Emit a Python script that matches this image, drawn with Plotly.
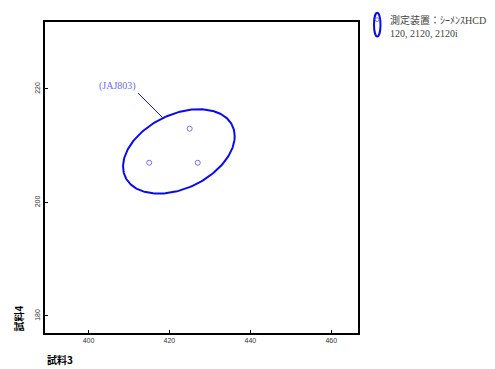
import numpy as np
import plotly.graph_objects as go

# ---- data ----
sample3 = [415.0, 425.0, 427.0]      # x: 試料3
sample4 = [207.0, 213.0, 207.0]      # y: 試料4
chi2_90 = 4.605                      # 90% confidence ellipse scale (2 dof)
x_ticks = [400, 420, 440, 460]
y_ticks = [180, 200, 220]
x_range = [389.25, 466.6]
y_range = [177.0, 231.8]
label_text = "(JAJ803)"
legend_text = "測定装置：ｼｰﾒﾝｽHCD<br>120, 2120, 2120i"
x_title = "試料3"
y_title = "試料4"

# ---- confidence ellipse from data ----
xy = np.array([sample3, sample4])
center = xy.mean(axis=1)
cov = np.cov(xy) * chi2_90
L = np.linalg.cholesky(cov)
t = np.linspace(0, 2 * np.pi, 240)
ell = center[:, None] + L @ np.vstack([np.cos(t), np.sin(t)])

# anchor of the label line on the ellipse
ang = 1.86
anchor = center + L @ np.array([np.cos(ang), np.sin(ang)])

fig = go.Figure()
fig.add_trace(go.Scatter(x=ell[0], y=ell[1], mode="lines",
                         line=dict(color="#0a0aee", width=2),
                         hoverinfo="skip", showlegend=False))
fig.add_trace(go.Scatter(x=sample3, y=sample4, mode="markers",
                         marker=dict(symbol="circle-open", size=5,
                                     color="#7070ff", line=dict(width=1)),
                         showlegend=False))

serif = "Liberation Serif, Noto Sans CJK JP, serif"
sans = "Liberation Sans, Arial, sans-serif"

annotations = [
    # leader line
    dict(x=anchor[0], y=anchor[1], xref="x", yref="y", text=" ",
         showarrow=True, arrowhead=0, arrowwidth=1, arrowcolor="#1010c0",
         ax=-27, ay=-27, font=dict(size=2)),
    # label
    dict(x=anchor[0], y=anchor[1], xref="x", yref="y", text=label_text,
         showarrow=False, xshift=-45, yshift=32,
         font=dict(family=serif, size=10, color="#6a6aff")),
    # legend text
    dict(x=(388 - 45) / 313, y=(333 - 9.5) / 313, xref="paper", yref="paper",
         xanchor="left", yanchor="top", align="left", text=legend_text,
         showarrow=False, font=dict(family=serif, size=10, color="#444444")),
    # axis titles
    dict(x=0, y=(333 - 360) / 313, xref="paper", yref="paper",
         xanchor="left", yanchor="middle", text="<b>" + x_title + "</b>",
         showarrow=False,
         font=dict(family="Noto Sans CJK JP", size=10, color="black")),
    dict(x=(19 - 45) / 313, y=(333 - 318.5) / 313, xref="paper", yref="paper",
         xanchor="center", yanchor="middle", text="<b>" + y_title + "</b>",
         textangle=-90, showarrow=False,
         font=dict(family="Noto Sans CJK JP", size=10, color="black")),
]

shapes = [
    dict(type="circle", xref="paper", yref="paper",
         x0=(374 - 45) / 313, x1=(380.5 - 45) / 313,
         y0=(333 - 34.5) / 313, y1=(333 - 10.8) / 313,
         line=dict(color="#0a0aee", width=2)),
    dict(type="circle", xref="paper", yref="paper",
         x0=(375.2 - 45) / 313, x1=(379 - 45) / 313,
         y0=(333 - 19.5) / 313, y1=(333 - 15.7) / 313,
         line=dict(color="#7070ff", width=1)),
]

axis_common = dict(showline=True, mirror=True, linecolor="black", linewidth=2,
                   ticks="inside", ticklen=3, tickwidth=1, tickcolor="black",
                   showgrid=False, zeroline=False,
                   tickfont=dict(family=sans, size=7, color="#333333"))

# page body has an 8px margin, so the figure is 8px smaller and margins shifted
fig.update_layout(
    width=487, height=361,
    margin=dict(l=37, r=137, t=12, b=36),
    paper_bgcolor="white", plot_bgcolor="white",
    xaxis=dict(range=x_range, tickvals=x_ticks, **axis_common),
    yaxis=dict(range=y_range, tickvals=y_ticks, tickangle=-90, **axis_common),
    annotations=annotations, shapes=shapes,
    showlegend=False,
)

fig.write_html("out.html")
